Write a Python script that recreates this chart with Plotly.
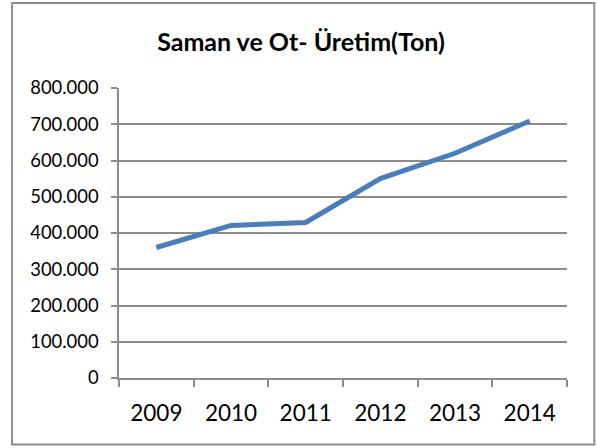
import plotly.graph_objects as go

years = ["2009", "2010", "2011", "2012", "2013", "2014"]
production = [360000, 421000, 429000, 550000, 620000, 709000]
y_ticks = [0, 100000, 200000, 300000, 400000, 500000, 600000, 700000, 800000]
y_tick_labels = ["0", "100.000", "200.000", "300.000", "400.000", "500.000",
                 "600.000", "700.000", "800.000"]
title_text = "Saman ve Ot- Üretim(Ton)"

W, H = 598, 448
ml, mr, mt, mb = 119.4, 30.8, 88.3, 70
pw, ph = W - ml - mr, H - mt - mb

fig = go.Figure()
fig.add_trace(go.Scatter(
    x=years, y=production, mode="lines",
    line=dict(color="#4A7EBB", width=5),
    hoverinfo="x+y", showlegend=False,
))

grid = "#8C8C8C"
fig.update_layout(
    width=W, height=H,
    margin=dict(l=ml, r=mr, t=mt, b=mb, autoexpand=False),
    paper_bgcolor="white", plot_bgcolor="white",
    font=dict(family="Lato, Carlito, sans-serif", color="black"),
    title=dict(text="<b>" + title_text + "</b>", x=301 / W, xanchor="center",
               y=1 - 42 / H, yanchor="middle",
               font=dict(size=25, family="Lato, sans-serif", color="black")),
    xaxis=dict(
        type="category", range=[-0.5, len(years) - 0.5], automargin=False,
        showgrid=False, showline=True, linecolor=grid, linewidth=1.5,
        ticks="outside", tickson="boundaries", ticklen=7, tickcolor=grid, tickwidth=1.5,
        tickfont=dict(size=22.5), ticklabelstandoff=14, zeroline=False,
    ),
    yaxis=dict(
        range=[0, 800000], tickvals=y_ticks, ticktext=y_tick_labels, automargin=False,
        showgrid=True, gridcolor=grid, gridwidth=1.5,
        showline=True, linecolor=grid, linewidth=1.5,
        ticks="outside", ticklen=6, tickcolor=grid, tickwidth=1.5,
        tickfont=dict(size=18.4), zeroline=False, ticklabelstandoff=9,
    ),
)

# outer chart border
fig.add_shape(type="rect", xref="paper", yref="paper",
              x0=(12.5 - ml) / pw, x1=(594.5 - ml) / pw,
              y0=(H - mb - 444.5) / ph, y1=(H - mb - 3.5) / ph,
              line=dict(color="#8E8E8E", width=2), fillcolor="rgba(0,0,0,0)",
              layer="above")

fig.write_html(
    "out.html",
    config={"displayModeBar": False},
    post_script="document.body.style.margin='0';document.body.style.overflow='hidden';",
)
